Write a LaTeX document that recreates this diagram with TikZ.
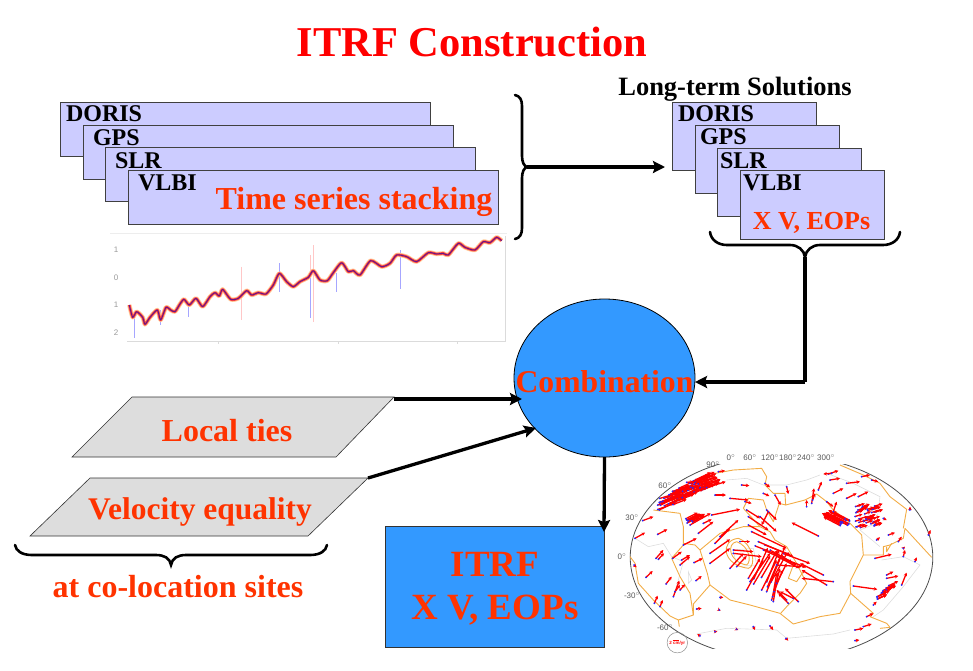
\documentclass[tikz,border=0pt]{standalone}
\usepackage{fontspec}
\setmainfont{Liberation Serif}
\newfontfamily\mapfont{Liberation Sans}
\usetikzlibrary{arrows.meta,positioning,shapes.geometric}
\definecolor{itrfred}{HTML}{FF3300}
\definecolor{stackfill}{HTML}{CCCCFF}
\definecolor{comboblue}{HTML}{3399FF}
\definecolor{tiegray}{HTML}{DDDDDD}
\definecolor{plateline}{HTML}{F2AC45}
\definecolor{coastline}{HTML}{DDDDDD}
\tikzset{
    every node/.style={inner sep=0pt,outer sep=0pt},
    stackbox/.style={draw=black!75,line width=.8pt,fill=stackfill},
    stacktext/.style={font=\fontsize{24}{26}\selectfont\bfseries,anchor=west},
    redtext/.style={text=itrfred,font=\fontsize{32}{36}\selectfont\bfseries},
    tiebox/.style={draw=black!80,line width=.6pt,fill=tiegray},
    flow/.style={-{Stealth[length=12pt,width=12pt,inset=2pt]},line width=3.3pt},
    curly/.style={line width=2.6pt,line cap=round},
    axisgray/.style={draw=black!14,line width=.9pt},
    axislab/.style={text=black!40,font=\mapfont\fontsize{8}{9}\selectfont},
    maplab/.style={text=black!65,font=\mapfont\fontsize{8}{9}\selectfont},
    plate/.style={draw=plateline,line width=.9pt,line join=round},
    coast/.style={draw=coastline,line width=.6pt},
    vec/.style={draw=red,line width=1.3pt,-{Stealth[length=3.5pt,width=3.5pt]}}
}
\newcommand{\mapvec}[4]{\draw[vec] (#1,#2) -- (#3,#4); \fill[blue!85] (#1,#2) circle (3);}
\begin{document}
\begin{tikzpicture}[x=1pt,y=-1pt]
    \useasboundingbox (0,0) rectangle (973,670);
    \node[text=red,font=\fontsize{42.5}{46}\selectfont\bfseries] (title) at (472,42) {ITRF Construction};

    % time series stack
    \node[stackbox,minimum width=370.5pt,minimum height=54pt] (doris) at (245.5,129) {};
    \node[stackbox,minimum width=370.5pt,minimum height=54pt] (gps) at (268.5,152) {};
    \node[stackbox,minimum width=370.5pt,minimum height=54pt] (slr) at (290.5,174.5) {};
    \node[stackbox,minimum width=370.5pt,minimum height=54pt] (vlbi) at (313.5,197.5) {};
    \node[stacktext] (dorislab) at (66,114) {DORIS};
    \node[stacktext] (gpslab) at (93,138) {GPS};
    \node[stacktext] (slrlab) at (115,161) {SLR};
    \node[stacktext] (vlbilab) at (138,183) {VLBI};
    \node[redtext] (stacking) at (354,202) {Time series stacking};

    % long-term solutions
    \node[font=\fontsize{26.5}{28}\selectfont\bfseries] (longterm) at (735,89) {Long-term Solutions};
    \node[stackbox,minimum width=144pt,minimum height=68pt] (doris2) at (744,136) {};
    \node[stackbox,minimum width=144pt,minimum height=68pt] (gps2) at (767,159) {};
    \node[stackbox,minimum width=144pt,minimum height=68pt] (slr2) at (789.5,182) {};
    \node[stackbox,minimum width=144pt,minimum height=69pt] (vlbi2) at (812,204.5) {};
    \node[stacktext] (dorislab2) at (678,114) {DORIS};
    \node[stacktext] (gpslab2) at (700,137) {GPS};
    \node[stacktext] (slrlab2) at (720,161) {SLR};
    \node[stacktext] (vlbilab2) at (743,183) {VLBI};
    \node[redtext,font=\fontsize{26}{28}\selectfont\bfseries] (xveop) at (811.5,223) {X V, EOPs};

    % stacked series plot
    \draw[axisgray] (127,341) -- (505,341) -- (505,236);
    \draw[axisgray,draw=black!7] (110,233) -- (507,233);
    \foreach \tx in {218,338,457} \draw[axisgray] (\tx,341) -- (\tx,344);
    \foreach \ty/\tl in {250/1,278/0,305/1,333/2} \node[axislab] (tick\ty) at (116,\ty) {\tl};
    \begin{scope}[shift={(100,230)},x=.3333pt,y=-.3333pt]
        \foreach \ex/\eya/\eyb in {640/45/275,425/110/270,632/75/200}
            \draw[red!22,line width=1.2pt] (\ex,\eya) -- (\ex,\eyb);
        \foreach \ex/\eya/\eyb in {632/130/265,902/60/178,103/250/325,538/100/185,710/130/185,265/215/262,182/240/285}
            \draw[blue!35,line width=1.3pt] (\ex,\eya) -- (\ex,\eyb);
        \def\series{(88,225) (98,262) (110,245) (128,262) (135,283) (150,262) (172,240) (182,270) (198,232) (212,240) (225,245) (240,222) (252,208) (268,225) (288,205) (308,230) (330,200) (345,188) (358,198) (368,178) (392,208) (415,205) (440,182) (455,195) (475,188) (498,192) (520,165) (538,130) (560,155) (580,170) (600,155) (625,142) (640,122) (660,150) (682,152) (700,128) (725,98) (745,125) (760,122) (780,135) (812,92) (845,110) (870,100) (890,75) (920,80) (950,95) (985,68) (1010,72) (1030,70) (1045,75) (1075,40) (1095,52) (1125,60) (1150,35) (1170,38) (1190,22) (1205,32)}
        \draw[orange!40,line width=4.4pt,line join=round] plot[smooth,tension=.4] coordinates {\series};
        \draw[red!75,line width=2.6pt,line join=round] plot[smooth,tension=.4] coordinates {\series};
        \draw[blue!70!black,opacity=.6,line width=1pt,line join=round] plot[smooth,tension=.4] coordinates {\series};
    \end{scope}

    % inputs to the combination
    \coordinate (tiesnw) at (132,397);
    \coordinate (tiesne) at (394,397);
    \coordinate (tiesse) at (336,457);
    \coordinate (tiessw) at (72,457);
    \coordinate (velonw) at (90,478);
    \coordinate (velone) at (368,478);
    \coordinate (velose) at (308,536);
    \coordinate (velosw) at (30,536);
    \draw[tiebox] (tiesnw) -- (tiesne) -- (tiesse) -- (tiessw) -- cycle;
    \draw[tiebox] (velonw) -- (velone) -- (velose) -- (velosw) -- cycle;
    \node[redtext] (tieslab) at (227,431) {Local ties};
    \node[redtext,font=\fontsize{31.5}{36}\selectfont\bfseries] (velocitylab) at (200,512) {Velocity equality};
    \node[redtext,font=\fontsize{32}{36}\selectfont\bfseries] (colocation) at (178,587) {at co-location sites};

    % combination and result
    \node[ellipse,draw=black,line width=.8pt,fill=comboblue,minimum width=181pt,minimum height=158pt] (combination) at (604.5,378) {};
    \node[redtext,font=\fontsize{31.7}{36}\selectfont\bfseries] (combolab) at (604.5,382) {Combination};
    \node[draw=black!80,line width=.8pt,fill=comboblue,minimum width=218.5pt,minimum height=121pt] (itrf) at (494.75,586.5) {};
    \node[redtext,font=\fontsize{37}{43}\selectfont\bfseries,align=center] (itrflab) at (495,589) {ITRF\\X V, EOPs};

    % braces
    \coordinate (bracetip) at (527,167);
    \coordinate (longin) at (665,167);
    \coordinate (bracedrop) at (805,257);
    \coordinate (corner) at (805,382);
    \coordinate (tiesout) at (394,399);
    \coordinate (tiesin) at (522,399);
    \coordinate (veloin) at (536,428);
    \draw[curly] (515,95) .. controls (520,96) and (522,100) .. (522,106) -- (522,156) .. controls (522,162) and (524,166) .. (bracetip) .. controls (524,168) and (522,172) .. (522,178) -- (522,228) .. controls (522,234) and (520,238) .. (515,239);
    \draw[curly] (710,232) .. controls (711,240) and (718,245) .. (727,245) -- (790,245) .. controls (798,245) and (804,250) .. (bracedrop) .. controls (806,250) and (812,245) .. (820,245) -- (883,245) .. controls (892,245) and (899,240) .. (900,232);
    \draw[curly] (15,545) .. controls (16,551) and (22,555) .. (32,555) -- (156,555) .. controls (164,555) and (170,558) .. (171,565) .. controls (172,558) and (178,555) .. (186,555) -- (310,555) .. controls (320,555) and (326,551) .. (327,545);

    % connectors
    \draw[flow] (bracetip) -- (longin);
    \draw[flow,-] (bracedrop) -- (corner);
    \draw[flow] (corner) -- (combination.east |- corner);
    \draw[flow] (tiesout) -- (tiesin);
    \draw[flow] (velone) -- (veloin);
    \draw[flow] (combination.south) -- ([yshift=-6pt]itrf.north east);

    % velocity field map
    \begin{scope}
        \clip (620,464) rectangle (945,648);
        \draw[black!70,line width=.8pt] (781.5,557.3) ellipse (151.3 and 102.3);
    \end{scope}
    \foreach \mx/\ml in {731/0,750/60,770/120,788/180,806/240,826/300} \node[maplab] (lon\ml) at (\mx,458) {\ml$^\circ$};
    \foreach \my/\mxx/\ml in {465/713/90,486/665/60,518/632/30,557/622/0,596/632/-30,628/665/-60} \node[maplab] (lat\my) at (\mxx,\my) {\ml$^\circ$};
    \begin{scope}[shift={(620,450)},x=.3333pt,y=-.3333pt]
        % coast lines
        \draw[coast] (45,265) -- (85,290) -- (130,280) -- (155,320) -- (190,335) -- (175,390) -- (160,440);
        \draw[coast] (785,330) -- (850,320) -- (900,345) -- (850,410) -- (790,480) -- (760,500);
        \draw[coast] (230,552) -- (320,535) -- (470,540) -- (500,565) -- (640,552) -- (690,540);
        \draw[coast] (320,90) -- (380,85) -- (430,105) -- (500,105) -- (560,90) -- (600,75);
        \draw[coast] (620,70) -- (700,100) -- (780,140) -- (770,220) -- (720,240) -- (780,290);
        \draw[coast] (340,300) -- (400,295) -- (410,345) -- (350,350) -- cycle;
        \draw[coast] (205,365) -- (215,390) -- (205,400) -- cycle;
        % plate boundaries
        \draw[plate] (285,70) -- (340,60) -- (425,55) -- (440,80) -- (435,105) -- (460,130) -- (495,130) -- (497,165) -- (555,150) -- (590,132) -- (620,155) -- (640,180) -- (680,210) -- (725,255) -- (730,315) -- (705,365) -- (690,395) -- (692,430) -- (660,490) -- (600,500) -- (520,522) -- (480,490) -- (390,465) -- (330,450) -- (270,405) -- (220,462) -- (220,495) -- (175,510) -- (150,498) -- (100,450) -- (55,400) -- (45,340) -- (30,320);
        \draw[plate] (100,180) -- (180,190) -- (190,230) -- (190,285) -- (155,325) -- (180,380) -- (210,430) -- (220,495);
        \draw[plate] (175,510) -- (178,530);
        \draw[plate] (270,405) -- (262,370) -- (240,300) -- (225,285) -- (190,280);
        \draw[plate] (692,430) -- (760,490) -- (750,500) -- (800,520) -- (810,532) -- (780,535);
        \draw[plate] (730,315) -- (790,315) -- (790,290) -- (810,285) -- (850,265) -- (855,235) -- (935,322);
        \draw[plate] (780,100) -- (810,140) -- (860,178) -- (850,235);
        \draw[plate] (660,45) -- (730,75) -- (780,100);
        \draw[plate] (370,175) -- (385,145) -- (430,150) -- (440,180) -- (460,215) -- (478,160) -- (497,165);
        \draw[plate] (370,175) -- (420,230) -- (450,245) -- (465,270) -- (500,290) -- (530,340) -- (560,400) -- (540,430) -- (500,470) -- (482,490);
        \draw[plate] (240,300) -- (300,250) -- (370,230) -- (420,230);
        \draw[plate] (520,345) -- (505,385) -- (530,395) -- (550,365);
        \draw[plate] (355,265) .. controls (300,270) and (305,345) .. (385,355) .. controls (410,350) and (400,280) .. (355,265);
        \draw[plate] (350,275) .. controls (320,280) and (325,335) .. (380,345) .. controls (395,335) and (390,290) .. (350,275);
        \draw[plate] (800,290) -- (800,305) -- (815,280);

        % station velocities
        \pgfmathsetseed{12}
        \foreach \i in {1,...,80} {
            \pgfmathsetmacro{\ax}{112+rnd*150}
            \pgfmathsetmacro{\ay}{188-(\ax-112)*.5-rnd*42}
            \mapvec{\ax}{\ay}{\ax+38+rnd*20}{\ay-15-rnd*7}
        }
        \foreach \i in {1,...,12} {
            \pgfmathsetmacro{\ax}{190+rnd*30}
            \pgfmathsetmacro{\ay}{205+rnd*15}
            \mapvec{\ax}{\ay}{\ax+35}{\ay-18}
        }
        \foreach \i in {1,...,22} {
            \pgfmathsetmacro{\ax}{655+rnd*35}
            \pgfmathsetmacro{\ay}{205+rnd*22}
            \mapvec{\ax}{\ay}{\ax-50}{\ay-26}
        }
        \foreach \i in {1,...,40} {
            \pgfmathsetmacro{\ax}{705+rnd*60}
            \pgfmathsetmacro{\ay}{165+rnd*70}
            \mapvec{\ax}{\ay}{\ax+18+rnd*8}{\ay-7}
        }
        \foreach \i in {1,...,14} {
            \pgfmathsetmacro{\ax}{770+rnd*40}
            \pgfmathsetmacro{\ay}{450-(\ax-770)*.9-rnd*15}
            \mapvec{\ax}{\ay}{\ax+28}{\ay-13}
        }
        \foreach \i in {1,...,6} {
            \pgfmathsetmacro{\ax}{385+rnd*90}
            \pgfmathsetmacro{\ay}{420-rnd*40}
            \mapvec{\ax}{\ay}{\ax+35+rnd*15}{\ay-80-rnd*15}
        }
        \foreach \i in {1,...,6} {
            \pgfmathsetmacro{\ax}{400+rnd*110}
            \pgfmathsetmacro{\ay}{270+(\ax-400)*.4+rnd*25}
            \mapvec{\ax}{\ay}{\ax+60+rnd*30}{\ay+28+rnd*12}
        }
        \foreach \ax/\ay/\bx/\by in {
            45/265/75/248, 113/253/142/238, 68/212/100/200, 42/345/50/352, 78/382/98/363, 108/325/130/300,
            115/328/132/310, 103/460/113/437, 120/470/128/450, 138/402/155/380, 160/440/178/392, 165/425/180/405,
            180/420/195/403, 158/325/185/305, 180/345/210/320, 185/330/210/315, 222/338/248/325, 228/392/245/378,
            190/285/230/265, 210/225/272/190, 235/250/280/215, 250/220/275/208, 275/195/360/178, 285/135/318/135,
            365/105/388/107, 330/145/385/150, 430/130/448/138, 435/100/450/112, 500/110/505/132, 465/135/482/165,
            295/65/315/62, 200/97/220/95, 375/155/395/160, 380/180/420/205, 420/200/470/245, 440/180/470/210,
            445/185/425/225, 385/200/445/240,
            270/340/330/295, 270/310/330/268, 285/280/330/235, 300/260/355/210, 330/355/370/310, 350/350/380/318,
            340/300/400/305, 340/310/425/320, 360/275/390/275, 385/225/440/255, 395/245/500/295, 415/275/520/320,
            430/300/530/345, 380/420/430/330, 385/385/420/325, 390/395/450/310, 425/420/470/330, 440/425/495/290,
            455/450/480/355, 460/455/475/365, 458/440/470/370, 462/425/488/360, 470/400/500/340, 500/450/470/420,
            520/445/480/425, 535/455/495/415, 505/460/475/430, 595/258/515/218, 610/375/540/340, 620/405/545/360,
            640/395/545/385, 700/408/772/418, 470/345/545/350,
            300/442/310/442, 230/477/245/475, 298/480/302/482, 400/530/405/540, 350/538/355/540, 450/528/460/540,
            240/558/232/552, 285/545/292/545, 498/565/505/572, 705/572/718/570, 705/540/730/535, 730/530/755/522,
            740/500/760/490, 760/465/770/455, 765/325/815/313, 800/375/820/365, 800/385/835/378, 845/405/860/368,
            850/320/855/300, 885/335/890/322, 925/255/932/240, 870/180/870/170, 790/205/800/210, 770/270/780/262,
            805/255/825/248, 835/275/845/260, 850/295/855/290,
            560/170/560/150, 575/160/582/115, 578/150/585/130, 595/120/605/95, 625/72/655/62, 635/70/610/72,
            630/90/660/85, 640/130/670/115, 680/100/720/95, 725/80/750/75, 755/90/775/95, 680/145/710/130,
            715/140/745/125, 640/185/650/155, 620/155/640/170
        } { \mapvec{\ax}{\ay}{\bx}{\by} }
        \node[draw=black!45,circle,line width=.5pt,minimum size=20.5pt] (scalering) at (172,578) {};
        \node[text=red,font=\mapfont\bfseries\fontsize{4.5}{5}\selectfont] (scalelab) at (172,580) {2 cm/yr};
        \draw[red,line width=.8pt] (158,570) -- (178,570);
    \end{scope}
\end{tikzpicture}
\end{document}
